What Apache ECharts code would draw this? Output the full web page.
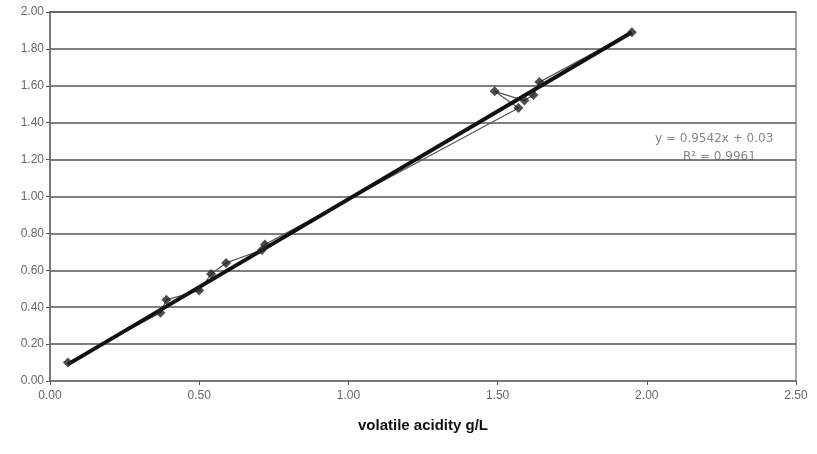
<!DOCTYPE html>
<html>
<head>
<meta charset="utf-8">
<script src="https://cdn.jsdelivr.net/npm/echarts@6/dist/echarts.min.js"></script>
<style>
  html, body { margin: 0; padding: 0; background: #fff; }
  #chart { width: 817px; height: 454px; }
</style>
</head>
<body>
<div id="chart"></div>
<script>
var xVals = [0.06, 0.37, 0.39, 0.50, 0.54, 0.59, 0.71, 0.72, 1.57, 1.49, 1.59, 1.62, 1.64, 1.95];
var yVals = [0.10, 0.37, 0.44, 0.49, 0.58, 0.64, 0.71, 0.74, 1.48, 1.57, 1.52, 1.55, 1.62, 1.89];
// trendline ends
var trendX = [0.06, 1.95];
var trendY = [0.09, 1.89];
var eqText = 'y = 0.9542x + 0.03';
var r2Text = 'R\u00b2 = 0.9961';

var chart = echarts.init(document.getElementById('chart'));

var points = [];
for (var i = 0; i < xVals.length; i++) {
    points.push([xVals[i], yVals[i]]);
}
var trend = [];
for (var j = 0; j < trendX.length; j++) {
    trend.push([trendX[j], trendY[j]]);
}

var labelFont = {
    color: '#666',
    fontFamily: 'Liberation Sans Narrow, Liberation Sans, Arial',
    fontSize: 12
};

var option = {
    animation: false,
    grid: {
        left: 50,
        right: 21,
        top: 12,
        bottom: 73,
        show: true,
        borderColor: '#888',
        borderWidth: 1.5
    },
    xAxis: {
        type: 'value',
        min: 0,
        max: 2.5,
        interval: 0.5,
        name: 'volatile acidity g/L',
        nameLocation: 'middle',
        nameGap: 37,
        nameTextStyle: {
            fontFamily: 'Liberation Sans Narrow, Liberation Sans, Arial',
            fontWeight: 'bold',
            fontSize: 15,
            color: '#111'
        },
        axisLine: { lineStyle: { color: '#777', width: 2 } },
        axisTick: { show: true, inside: false, length: 4, lineStyle: { color: '#555' } },
        splitLine: { show: false },
        axisLabel: Object.assign({
            margin: 9,
            formatter: function (v) { return v.toFixed(2); }
        }, labelFont)
    },
    yAxis: {
        type: 'value',
        min: 0,
        max: 2,
        interval: 0.2,
        axisLine: { show: true, lineStyle: { color: '#777', width: 2 } },
        axisTick: { show: true, length: 4, lineStyle: { color: '#555' } },
        splitLine: { show: true, lineStyle: { color: '#555', width: 1.5 } },
        axisLabel: Object.assign({
            margin: 6,
            formatter: function (v) { return v.toFixed(2); }
        }, labelFont)
    },
    series: [
        {
            // 数据连线，放在趋势线下面
            name: 'dataLine',
            type: 'line',
            data: points,
            symbol: 'none',
            lineStyle: { color: '#555', width: 1.2 },
            z: 1
        },
        {
            name: 'trend',
            type: 'line',
            data: trend,
            symbol: 'none',
            lineStyle: { color: '#111', width: 4 },
            z: 2
        },
        {
            name: 'data',
            type: 'scatter',
            data: points,
            symbol: 'diamond',
            symbolSize: 10,
            itemStyle: { color: '#222' },
            z: 3
        }
    ],
    graphic: [
        {
            type: 'text',
            left: 655,
            top: 133,
            style: {
                text: eqText,
                fill: '#888',
                font: '12px DejaVu Sans'
            }
        },
        {
            type: 'text',
            left: 683,
            top: 151,
            style: {
                text: r2Text,
                fill: '#888',
                font: '12px DejaVu Sans'
            }
        }
    ]
};

chart.setOption(option);
</script>
</body>
</html>
